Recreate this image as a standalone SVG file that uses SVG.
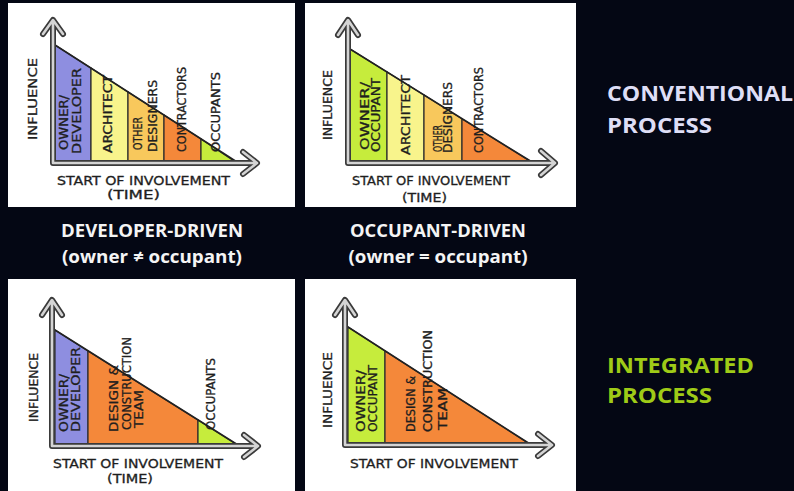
<svg xmlns="http://www.w3.org/2000/svg" width="794" height="491" viewBox="0 0 794 491">
<style>
.panel{fill:#ffffff}
.seg{stroke:#2b2b2b;stroke-width:1.2}
.hyp{fill:none;stroke:#222;stroke-width:1.6;stroke-linecap:round}
.axo{fill:none;stroke:#3a3a3a;stroke-width:6;stroke-linecap:round;stroke-linejoin:round}
.axi{fill:none;stroke:#d4d4d4;stroke-width:2.6;stroke-linecap:round;stroke-linejoin:round}
.h{font-family:"DejaVu Sans Condensed","Liberation Sans Narrow","Liberation Sans",sans-serif;fill:#1e1e1e;font-size:12px;stroke:#1e1e1e;stroke-width:0.3}
.hx{font-family:"DejaVu Sans Condensed","Liberation Sans Narrow","Liberation Sans",sans-serif;fill:#1e1e1e;font-size:13px;stroke:#1e1e1e;stroke-width:0.3}
.cap{font-family:"Open Sans","Liberation Sans",sans-serif;font-weight:bold;fill:#f4f4f4;font-size:18px;text-anchor:middle}
.side{font-family:"Open Sans","Liberation Sans",sans-serif;font-weight:bold;font-size:22px}
.pur{fill:#8e8ee0}.ylw{fill:#f8f48c}.gld{fill:#f8c85c}.org{fill:#f4883a}.lim{fill:#c6ec3c}
</style>
<rect x="0" y="0" width="794" height="491" fill="#040714"/>

<g id="panel-developer-driven">
<rect class="panel" x="8" y="3" width="287" height="204"/>
<polygon class="seg pur" points="55,45 91,68 91,163 55,163"/>
<polygon class="seg ylw" points="91,68 128,92 128,163 91,163"/>
<polygon class="seg gld" points="128,92 164,115 164,163 128,163"/>
<polygon class="seg org" points="164,115 201,139 201,163 164,163"/>
<polygon class="seg lim" points="201,139 237,163 201,163"/>
<line class="hyp" x1="55" y1="45" x2="237" y2="162"/>
<path class="axo" d="M53,163 V21 M43,34 L53,20 L63,34 M53,163 H256 M243,152 L257,163 L243,174"/>
<path class="axi" d="M53,163 V21 M43,34 L53,20 L63,34 M53,163 H256 M243,152 L257,163 L243,174"/>
<text class="hx" transform="translate(37,140) rotate(-90)" textLength="82" lengthAdjust="spacingAndGlyphs">INFLUENCE</text>
<text class="h" transform="translate(68,150) rotate(-90)" textLength="55" lengthAdjust="spacingAndGlyphs">OWNER/</text>
<text class="h" transform="translate(81,154) rotate(-90)" textLength="86" lengthAdjust="spacingAndGlyphs">DEVELOPER</text>
<text class="h" transform="translate(112,153) rotate(-90)" textLength="78" lengthAdjust="spacingAndGlyphs">ARCHITECT</text>
<text class="h" transform="translate(142,150) rotate(-90)" textLength="33" lengthAdjust="spacingAndGlyphs">OTHER</text>
<text class="h" transform="translate(157,152) rotate(-90)" textLength="72" lengthAdjust="spacingAndGlyphs">DESIGNERS</text>
<text class="h" transform="translate(186,152) rotate(-90)" textLength="85" lengthAdjust="spacingAndGlyphs">CONTRACTORS</text>
<text class="h" transform="translate(220,152) rotate(-90)" textLength="80" lengthAdjust="spacingAndGlyphs">OCCUPANTS</text>
<text class="hx" x="57" y="185" textLength="173" lengthAdjust="spacingAndGlyphs">START OF INVOLVEMENT</text>
<text class="hx" x="107" y="199" textLength="53" lengthAdjust="spacingAndGlyphs">(TIME)</text>
</g>

<g id="panel-occupant-driven">
<rect class="panel" x="305" y="3" width="271" height="204"/>
<polygon class="seg lim" points="350,49 387,72 387,163 350,163"/>
<polygon class="seg ylw" points="387,72 424,95 424,163 387,163"/>
<polygon class="seg gld" points="424,95 462,119 462,163 424,163"/>
<polygon class="seg org" points="462,119 533,163 462,163"/>
<line class="hyp" x1="350" y1="49" x2="532" y2="162"/>
<path class="axo" d="M348,163 V21 M338,35 L348,20 L358,35 M348,163 H554 M541,151 L555,163 L541,175"/>
<path class="axi" d="M348,163 V21 M338,35 L348,20 L358,35 M348,163 H554 M541,151 L555,163 L541,175"/>
<text class="hx" transform="translate(332,140) rotate(-90)" textLength="70" lengthAdjust="spacingAndGlyphs">INFLUENCE</text>
<text class="h" transform="translate(369,150) rotate(-90)" textLength="68" lengthAdjust="spacingAndGlyphs">OWNER/</text>
<text class="h" transform="translate(380,152) rotate(-90)" textLength="74" lengthAdjust="spacingAndGlyphs">OCCUPANT</text>
<text class="h" transform="translate(410,155) rotate(-90)" textLength="80" lengthAdjust="spacingAndGlyphs">ARCHITECT</text>
<text class="h" transform="translate(442,152) rotate(-90)" textLength="27" lengthAdjust="spacingAndGlyphs">OTHER</text>
<text class="h" transform="translate(452,153) rotate(-90)" textLength="71" lengthAdjust="spacingAndGlyphs">DESIGNERS</text>
<text class="h" transform="translate(483,153) rotate(-90)" textLength="86" lengthAdjust="spacingAndGlyphs">CONTRACTORS</text>
<text class="hx" x="352" y="185" textLength="158" lengthAdjust="spacingAndGlyphs">START OF INVOLVEMENT</text>
<text class="hx" x="402" y="202" textLength="45" lengthAdjust="spacingAndGlyphs">(TIME)</text>
</g>

<g id="panel-integrated-developer">
<rect class="panel" x="8" y="279" width="287" height="212"/>
<polygon class="seg pur" points="55,330 88,351 88,446 55,446"/>
<polygon class="seg org" points="88,351 198,420 198,446 88,446"/>
<polygon class="seg lim" points="198,420 239,446 198,446"/>
<line class="hyp" x1="55" y1="330" x2="238" y2="445"/>
<path class="axo" d="M52,446 V301 M42,315 L52,300 L62,315 M52,446 H257 M244,435 L258,446 L244,457"/>
<path class="axi" d="M52,446 V301 M42,315 L52,300 L62,315 M52,446 H257 M244,435 L258,446 L244,457"/>
<text class="hx" transform="translate(38,422) rotate(-90)" textLength="69" lengthAdjust="spacingAndGlyphs">INFLUENCE</text>
<text class="h" transform="translate(68,432) rotate(-90)" textLength="58" lengthAdjust="spacingAndGlyphs">OWNER/</text>
<text class="h" transform="translate(80,432) rotate(-90)" textLength="85" lengthAdjust="spacingAndGlyphs">DEVELOPER</text>
<text class="h" transform="translate(118,432) rotate(-90)" textLength="67" lengthAdjust="spacingAndGlyphs">DESIGN &amp;</text>
<text class="h" transform="translate(131,430) rotate(-90)" textLength="93" lengthAdjust="spacingAndGlyphs">CONSTRUCTION</text>
<text class="h" transform="translate(143,428) rotate(-90)" textLength="38" lengthAdjust="spacingAndGlyphs">TEAM</text>
<text class="h" transform="translate(215,430) rotate(-90)" textLength="72" lengthAdjust="spacingAndGlyphs">OCCUPANTS</text>
<text class="hx" x="53" y="468" textLength="170" lengthAdjust="spacingAndGlyphs">START OF INVOLVEMENT</text>
<text class="hx" x="107" y="483" textLength="46" lengthAdjust="spacingAndGlyphs">(TIME)</text>
</g>

<g id="panel-integrated-occupant">
<rect class="panel" x="305" y="279" width="271" height="212"/>
<polygon class="seg lim" points="348,327 385,351 385,445 348,445"/>
<polygon class="seg org" points="385,351 531,445 385,445"/>
<line class="hyp" x1="348" y1="327" x2="530" y2="444"/>
<path class="axo" d="M345,445 V301 M335,315 L345,300 L355,315 M345,445 H551 M538,434 L552,445 L538,456"/>
<path class="axi" d="M345,445 V301 M335,315 L345,300 L355,315 M345,445 H551 M538,434 L552,445 L538,456"/>
<text class="hx" transform="translate(332,428) rotate(-90)" textLength="76" lengthAdjust="spacingAndGlyphs">INFLUENCE</text>
<text class="h" transform="translate(365,432) rotate(-90)" textLength="62" lengthAdjust="spacingAndGlyphs">OWNER/</text>
<text class="h" transform="translate(377,432) rotate(-90)" textLength="67" lengthAdjust="spacingAndGlyphs">OCCUPANT</text>
<text class="h" transform="translate(415,432) rotate(-90)" textLength="56" lengthAdjust="spacingAndGlyphs">DESIGN &amp;</text>
<text class="h" transform="translate(432,432) rotate(-90)" textLength="102" lengthAdjust="spacingAndGlyphs">CONSTRUCTION</text>
<text class="h" transform="translate(447,430) rotate(-90)" textLength="42" lengthAdjust="spacingAndGlyphs">TEAM</text>
<text class="hx" x="350" y="468" textLength="168" lengthAdjust="spacingAndGlyphs">START OF INVOLVEMENT</text>
</g>

<g id="captions">
<text class="cap" x="152" y="237" textLength="182" lengthAdjust="spacingAndGlyphs">DEVELOPER-DRIVEN</text>
<text class="cap" x="152" y="263" textLength="180" lengthAdjust="spacingAndGlyphs">(owner ≠ occupant)</text>
<text class="cap" x="438" y="237" textLength="176" lengthAdjust="spacingAndGlyphs">OCCUPANT-DRIVEN</text>
<text class="cap" x="438" y="263" textLength="179" lengthAdjust="spacingAndGlyphs">(owner = occupant)</text>
</g>

<g id="conventional-label">
<text class="side" x="607" y="101" fill="#dedef6" textLength="186" lengthAdjust="spacingAndGlyphs">CONVENTIONAL</text>
<text class="side" x="607" y="133" fill="#dedef6" textLength="105" lengthAdjust="spacingAndGlyphs">PROCESS</text>
</g>
<g id="integrated-label">
<text class="side" x="607" y="373" fill="#9fcb17" textLength="147" lengthAdjust="spacingAndGlyphs">INTEGRATED</text>
<text class="side" x="607" y="403" fill="#9fcb17" textLength="105" lengthAdjust="spacingAndGlyphs">PROCESS</text>
</g>
</svg>
